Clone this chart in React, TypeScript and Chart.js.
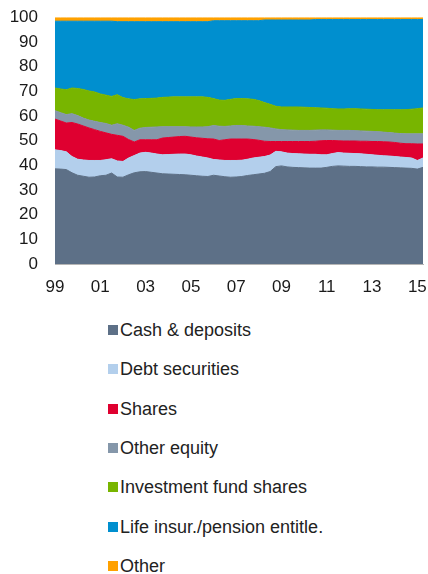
import React, { useEffect, useRef } from 'react';
import { Chart, registerables } from 'chart.js';

Chart.register(...registerables);

// Quarterly categories 1999Q1 .. 2015Q2
const years = [1999, 2000, 2001, 2002, 2003, 2004, 2005, 2006, 2007, 2008, 2009, 2010, 2011, 2012, 2013, 2014, 2015];
const quarters: string[] = [];
years.forEach((y) => {
  for (let q = 1; q <= 4; q++) {
    if (y === 2015 && q > 2) break;
    quarters.push(`${y}Q${q}`);
  }
});

const seriesNames = [
  'Cash & deposits',
  'Debt securities',
  'Shares',
  'Other equity',
  'Investment fund shares',
  'Life insur./pension entitle.',
  'Other',
];
const seriesColors = ['#5D7087', '#B3CFEC', '#DF0030', '#8597AA', '#78B500', '#008FCF', '#FFA100'];

const cash = [38.6,38.5,38.3,37.0,36.0,35.6,35.2,35.3,35.8,36.0,36.9,35.3,35.2,36.2,37.0,37.4,37.5,37.2,36.9,36.6,36.5,36.4,36.3,36.2,36.0,35.8,35.6,35.5,36.0,35.7,35.4,35.2,35.3,35.5,35.9,36.2,36.5,36.8,37.5,39.5,39.8,39.4,39.2,39.1,39.0,38.9,38.9,38.9,39.2,39.6,39.8,39.7,39.6,39.6,39.5,39.4,39.4,39.3,39.3,39.2,39.1,39.0,38.9,38.8,38.5,39.2];
const debtSecurities = [7.7,7.5,7.2,6.6,6.5,6.6,6.8,6.7,6.2,6.3,5.8,6.5,6.4,6.8,7.0,7.6,7.8,7.8,7.7,7.7,7.9,8.1,8.3,8.4,8.3,8.0,7.8,7.5,6.4,6.5,6.6,6.8,6.7,6.6,6.6,6.8,6.8,6.8,6.7,6.2,5.7,5.6,5.6,5.6,5.6,5.6,5.6,5.4,5.1,5.2,5.4,5.3,5.3,5.2,5.2,5.1,4.9,4.8,4.6,4.6,4.5,4.4,4.3,4.2,3.5,3.8];
const shares = [12.5,12.0,11.7,13.8,14.3,13.8,13.2,12.5,11.8,10.9,9.9,10.4,10.2,7.5,5.5,5.4,5.1,5.4,5.8,6.8,6.9,7.0,7.1,7.2,7.2,7.4,7.6,7.8,8.3,7.9,8.4,8.7,8.7,8.6,8.2,7.5,6.9,6.2,5.5,4.0,4.2,4.7,4.9,5.0,5.1,5.2,5.3,5.7,5.8,5.3,4.8,4.9,5.0,5.1,5.1,5.3,5.4,5.6,5.7,5.7,5.7,5.6,5.6,5.8,6.7,5.7];
const otherEquity = [3.4,3.4,3.4,3.6,3.4,3.2,3.2,3.4,3.6,3.8,3.7,4.7,4.5,5.0,4.7,4.7,5.0,5.1,5.2,4.6,4.4,4.2,4.0,3.9,4.1,4.4,4.6,4.9,5.5,5.8,5.4,5.3,5.5,5.5,5.3,5.4,5.5,5.7,5.5,5.1,4.8,4.7,4.6,4.5,4.5,4.5,4.5,4.4,4.3,4.2,4.2,4.3,4.3,4.2,4.2,4.1,4.1,4.0,3.9,3.8,3.8,3.9,4.0,4.0,4.1,4.1];
const fundShares = [9.2,9.6,10.1,10.4,11.0,11.6,11.8,11.9,11.6,11.5,11.7,11.8,11.2,11.5,12.5,11.9,11.7,11.7,11.7,11.9,12.0,12.1,12.1,12.1,12.2,12.2,12.2,11.9,10.9,10.6,10.6,10.8,10.9,10.9,11.0,10.9,10.6,10.0,9.6,9.2,9.2,9.3,9.4,9.5,9.4,9.3,9.1,8.9,8.8,8.7,8.7,8.7,8.8,8.9,8.9,8.9,8.9,8.9,9.1,9.3,9.5,9.7,9.8,10.0,10.2,10.5];
const lifeInsurance = [27.1,27.5,27.8,27.1,27.3,27.7,28.3,28.7,29.5,30.0,30.5,29.6,30.8,31.3,31.6,31.3,31.2,31.1,31.0,30.7,30.6,30.5,30.5,30.5,30.5,30.5,30.5,30.7,31.6,32.2,32.3,31.9,31.6,31.6,31.7,31.9,32.4,33.5,34.2,35.0,35.3,35.3,35.3,35.3,35.4,35.5,35.8,35.9,36.0,36.2,36.3,36.3,36.2,36.2,36.3,36.4,36.5,36.6,36.6,36.6,36.6,36.6,36.6,36.4,36.2,35.9];
const other = [1.5,1.5,1.5,1.5,1.5,1.5,1.5,1.5,1.5,1.5,1.5,1.7,1.7,1.7,1.7,1.7,1.7,1.7,1.7,1.7,1.7,1.7,1.7,1.7,1.7,1.7,1.7,1.7,1.3,1.3,1.3,1.3,1.3,1.3,1.3,1.3,1.3,1.0,1.0,1.0,1.0,1.0,1.0,1.0,1.0,1.0,0.8,0.8,0.8,0.8,0.8,0.8,0.8,0.8,0.8,0.8,0.8,0.8,0.8,0.8,0.8,0.8,0.8,0.8,0.8,0.8];

const seriesData = [cash, debtSecurities, shares, otherEquity, fundShares, lifeInsurance, other];
const xTickEvery = 8; // one label every two years
const FONT = '"Liberation Sans", Arial, Helvetica, sans-serif';

export default function App() {
  const ref = useRef<HTMLCanvasElement | null>(null);

  useEffect(() => {
    document.body.style.margin = '0';
    const canvas = ref.current;
    if (!canvas) return;
    const chart = new Chart(canvas, {
      type: 'line',
      data: {
        labels: quarters,
        datasets: seriesData.map((d, i) => ({
          label: seriesNames[i],
          data: d,
          backgroundColor: seriesColors[i],
          borderColor: seriesColors[i],
          borderWidth: 1,
          pointRadius: 0,
          tension: 0,
          fill: i === 0 ? 'origin' : '-1',
        })),
      },
      options: {
        animation: false,
        responsive: false,
        devicePixelRatio: 1,
        layout: { padding: { top: 17.5, right: 5, left: 0, bottom: 0 } },
        plugins: {
          legend: { display: false },
          tooltip: { enabled: false },
        },
        scales: {
          x: {
            grid: {
              display: true,
              drawOnChartArea: false,
              drawTicks: true,
              tickLength: 10,
              color: 'rgba(0,0,0,0)',
            },
            border: { display: true, color: '#b5b5b5', width: 1 },
            ticks: {
              autoSkip: false,
              maxRotation: 0,
              minRotation: 0,
              padding: 3,
              color: '#1a1a1a',
              font: { family: FONT, size: 17 },
              callback: (_v: any, idx: number) =>
                idx % xTickEvery === 0 ? quarters[idx].slice(2, 4) : '',
            },
            afterFit: (s: any) => {
              s.height = 36;
            },
          },
          y: {
            stacked: true,
            min: 0,
            max: 100,
            grid: {
              display: true,
              drawOnChartArea: false,
              drawTicks: true,
              tickLength: 14,
              color: 'rgba(0,0,0,0)',
            },
            border: { display: false },
            ticks: {
              stepSize: 10,
              padding: 3,
              color: '#1a1a1a',
              font: { family: FONT, size: 17 },
            },
            afterFit: (s: any) => {
              s.width = 55;
            },
          },
        },
      },
    });
    return () => chart.destroy();
  }, []);

  return (
    <div style={{ position: 'absolute', left: 0, top: 0, width: 428, height: 574, background: '#fff' }}>
      <canvas ref={ref} width={428} height={300} style={{ display: 'block', width: 428, height: 300 }} />
      <div style={{ position: 'absolute', left: 107, top: 319, fontFamily: FONT, fontSize: 18, color: '#222' }}>
        {seriesNames.map((name, i) => (
          <div
            key={name}
            style={{ position: 'absolute', top: i * 39.33, left: 0, height: 22, lineHeight: '22px', whiteSpace: 'nowrap' }}
          >
            <span
              style={{
                position: 'absolute',
                left: 1,
                top: 6,
                width: 10,
                height: 10,
                background: seriesColors[i],
              }}
            />
            <span style={{ position: 'absolute', left: 13, top: 0 }}>{name}</span>
          </div>
        ))}
      </div>
    </div>
  );
}
